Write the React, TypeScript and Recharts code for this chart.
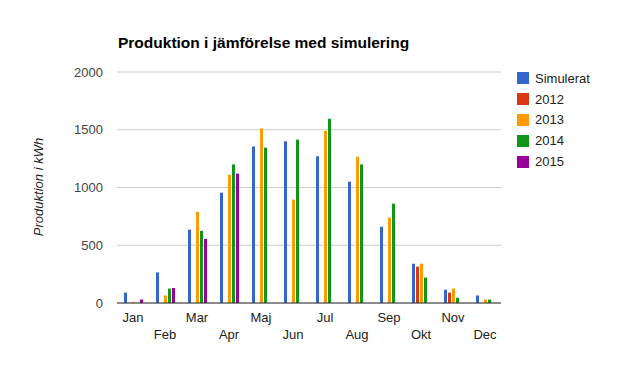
import { Bar, BarChart, CartesianGrid, XAxis, YAxis } from "recharts";

const months = ["Jan", "Feb", "Mar", "Apr", "Maj", "Jun", "Jul", "Aug", "Sep", "Okt", "Nov", "Dec"];
const simulerat = [90, 265, 635, 955, 1355, 1400, 1270, 1050, 660, 340, 115, 65];
const y2012 = [null, null, null, null, null, null, null, null, null, 315, 90, null];
const y2013 = [10, 65, 790, 1110, 1510, 895, 1490, 1265, 740, 340, 125, 30];
const y2014 = [null, 125, 625, 1200, 1345, 1415, 1595, 1200, 860, 220, 45, 30];
const y2015 = [30, 130, 555, 1120, null, null, null, null, null, null, null, null];
const yTicks = [0, 500, 1000, 1500, 2000];

const series = [
  { key: "sim", name: "Simulerat", color: "#3366cc", values: simulerat },
  { key: "y2012", name: "2012", color: "#dc3912", values: y2012 },
  { key: "y2013", name: "2013", color: "#ff9900", values: y2013 },
  { key: "y2014", name: "2014", color: "#109618", values: y2014 },
  { key: "y2015", name: "2015", color: "#990099", values: y2015 },
];

const data = months.map((m, i) => {
  const row: Record<string, string | number | null> = { month: m };
  series.forEach((s) => (row[s.key] = s.values[i]));
  return row;
});

// Google-style staggered month labels: every other one drops a line
function MonthTick(props: any) {
  const { x, y, payload } = props;
  const low = months.indexOf(payload.value) % 2 === 1;
  return (
    <text x={x} y={y + (low ? 36 : 19)} textAnchor="middle" fill="#222" fontSize={13}>
      {payload.value}
    </text>
  );
}

export default function App() {
  return (
    <div
      style={{
        position: "absolute",
        left: 0,
        top: 0,
        width: 620,
        height: 375,
        background: "#fff",
        fontFamily: "'Liberation Sans', Arial, sans-serif",
      }}
    >
      <div
        style={{
          position: "absolute",
          left: 118,
          top: 34,
          fontSize: 15.5,
          fontWeight: "bold",
          color: "#000",
          whiteSpace: "nowrap",
        }}
      >
        Produktion i jämförelse med simulering
      </div>
      <div
        style={{
          position: "absolute",
          left: 38,
          top: 187,
          transform: "translate(-50%, -50%) rotate(-90deg)",
          fontSize: 13,
          fontStyle: "italic",
          color: "#222",
          whiteSpace: "nowrap",
        }}
      >
        Produktion i kWh
      </div>
      <BarChart
        width={620}
        height={375}
        data={data}
        margin={{ top: 72, right: 119, bottom: 0, left: 0 }}
        barSize={3}
        barGap={1}
      >
        <CartesianGrid vertical={false} stroke="#ccc" />
        <XAxis
          dataKey="month"
          height={72}
          tickLine={false}
          tickSize={0}
          tickMargin={0}
          axisLine={{ stroke: "#333" }}
          tick={<MonthTick />}
          interval={0}
        />
        <YAxis
          width={117}
          domain={[0, 2000]}
          ticks={yTicks}
          axisLine={false}
          tickLine={false}
          tickSize={0}
          tickMargin={14}
          tick={{ fill: "#444", fontSize: 13 }}
        />
        {series.map((s) => (
          <Bar key={s.key} dataKey={s.key} name={s.name} fill={s.color} isAnimationActive={false} />
        ))}
      </BarChart>
      <div style={{ position: "absolute", left: 517, top: 68 }}>
        {series.map((s) => (
          <div key={s.key} style={{ display: "flex", alignItems: "center", height: 20.8 }}>
            <span style={{ width: 12, height: 12, background: s.color, marginRight: 6 }} />
            <span style={{ fontSize: 13, color: "#222" }}>{s.name}</span>
          </div>
        ))}
      </div>
    </div>
  );
}
